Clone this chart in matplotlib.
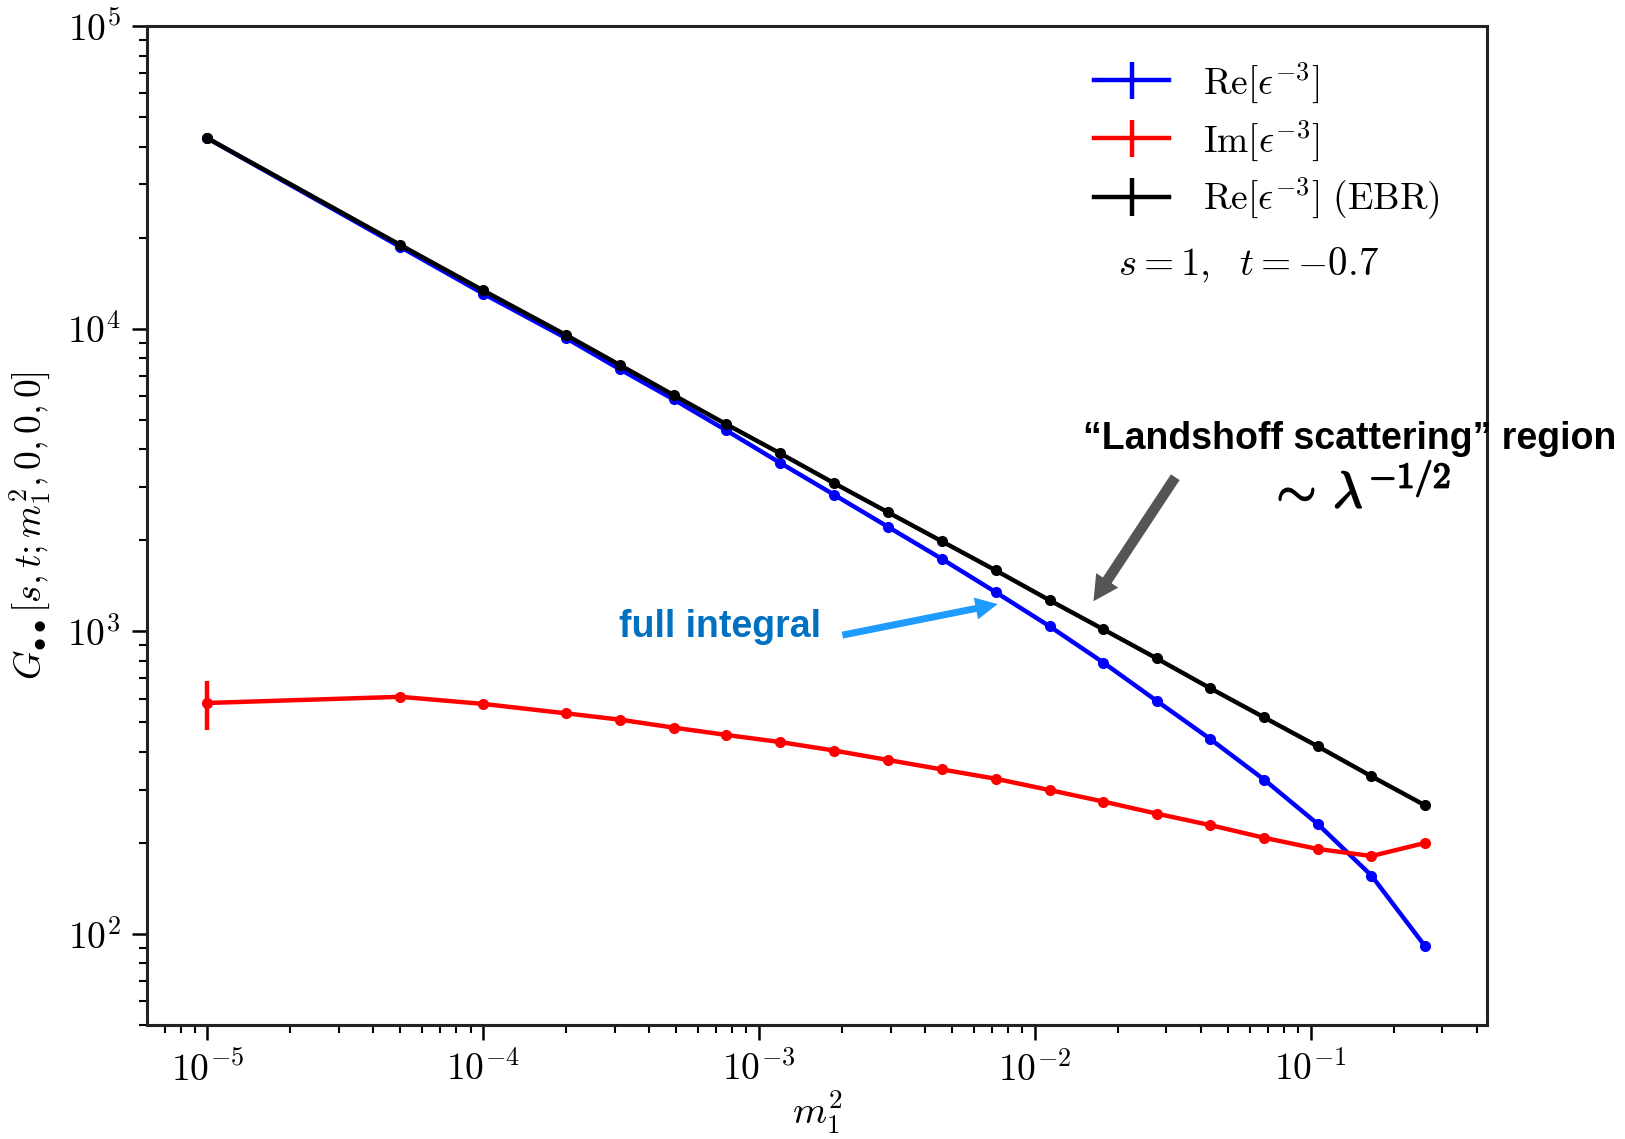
import numpy as np
import matplotlib
matplotlib.use("Agg")
import matplotlib.pyplot as plt
import matplotlib.patheffects as pe
from matplotlib.ticker import FuncFormatter, LogLocator, NullFormatter

plt.rcParams["mathtext.fontset"] = "cm"
plt.rcParams["font.family"] = ["DejaVu Serif"]

# m_1^2 values
m2 = [1e-5, 5e-5, 1e-4, 2.0e-4, 3.13e-4, 4.9e-4, 7.6e-4, 1.19e-3, 1.87e-3,
      2.93e-3, 4.59e-3, 7.2e-3, 1.13e-2, 1.77e-2, 2.76e-2, 4.32e-2, 6.77e-2,
      0.106, 0.166, 0.260]

re_full = [42660, 18660, 13070, 9310, 7350, 5845, 4620, 3610, 2830, 2218,
           1738, 1349, 1040, 789, 590, 441, 324, 231, 156, 91]
im_full = [580, 608, 576, 536, 511, 481, 455, 431, 404, 376, 350, 326, 299,
           274, 250, 229, 208, 191, 181, 200]
re_ebr = [42660, 18940, 13390, 9530, 7590, 6040, 4840, 3880, 3090, 2477,
          1987, 1592, 1268, 1016, 815, 649, 520, 417, 332, 266]

re_err = [0] * 20
im_err = [106] + [0] * 19
ebr_err = [0] * 20

labels = [r"$\mathrm{Re}[\epsilon^{-3}]$",
          r"$\mathrm{Im}[\epsilon^{-3}]$",
          r"$\mathrm{Re}[\epsilon^{-3}]\ \mathrm{(EBR)}$"]

fig = plt.figure(figsize=(16.25, 11.39), dpi=100)
ax = fig.add_axes([0.0905, 0.100, 0.8245, 0.877])

kw = dict(marker="o", markersize=7, linewidth=3.2, elinewidth=3.2, capsize=0)
ax.errorbar(m2, re_full, yerr=re_err, color="blue", label=labels[0], **kw)
ax.errorbar(m2, im_full, yerr=im_err, color="red", label=labels[1], **kw)
ax.errorbar(m2, re_ebr, yerr=ebr_err, color="black", label=labels[2], **kw)

ax.set_xscale("log")
ax.set_yscale("log")
ax.set_xlim(6.05e-6, 0.435)
ax.set_ylim(50, 1e5)

fmt = FuncFormatter(lambda v, p: r"$10^{%d}$" % int(round(np.log10(v))))
ax.xaxis.set_major_locator(LogLocator(base=10, numticks=20))
ax.yaxis.set_major_locator(LogLocator(base=10, numticks=20))
ax.xaxis.set_major_formatter(fmt)
ax.yaxis.set_major_formatter(fmt)
ax.xaxis.set_minor_formatter(NullFormatter())
ax.yaxis.set_minor_formatter(NullFormatter())
ax.tick_params(which="major", direction="out", length=11, width=1.8,
               labelsize=27, pad=8)
ax.tick_params(which="minor", direction="out", length=6, width=1.5)
for sp in ax.spines.values():
    sp.set_linewidth(2.2)
    sp.set_color("#222222")

ax.set_xlabel(r"$m_1^2$", fontsize=28, labelpad=0)
ax.set_ylabel(r"$G_{\bullet\bullet}[s,t;m_1^2,0,0,0]$", fontsize=27, labelpad=10)

leg = ax.legend(loc="upper right", frameon=False, fontsize=27,
                bbox_to_anchor=(0.99, 1.0), handlelength=2.0,
                handletextpad=0.9, labelspacing=0.35, markerscale=0.01)
for h in leg.legend_handles:
    for art in getattr(h, "get_children", lambda: [])():
        try:
            art.set_linewidth(4.0)
        except Exception:
            pass

ax.text(0.02, 16300, r"$s=1,\ \ t=-0.7$", fontsize=28, va="center", ha="left")

# annotations
ax.annotate("", xy=(7.5e-3, 1236), xytext=(1.96e-3, 968),
            arrowprops=dict(arrowstyle="simple,head_length=1.6,head_width=1.6,tail_width=0.5",
                            color="#1E9BFF", lw=0))
ax.text(1.68e-3, 1033, "full integral", color="#0070C0", fontsize=27,
        fontweight="bold", family="Liberation Sans", ha="right", va="center")

ax.annotate("", xy=(1.61e-2, 1236), xytext=(3.27e-2, 3290),
            arrowprops=dict(arrowstyle="simple,head_length=1.8,head_width=1.9,tail_width=0.75",
                            color="#555555", lw=0))
ax.text(1.5e-2, 4335, "\u201cLandshoff scattering\u201d region", color="black",
        fontsize=27, fontweight="bold", family="Liberation Sans",
        ha="left", va="center", clip_on=False)
ax.text(0.150, 2876, r"$\sim\,\lambda^{-1/2}$", fontsize=37,
        ha="center", va="center",
        path_effects=[pe.withStroke(linewidth=1.2, foreground="black")])

fig.savefig("out.png", dpi=100)
